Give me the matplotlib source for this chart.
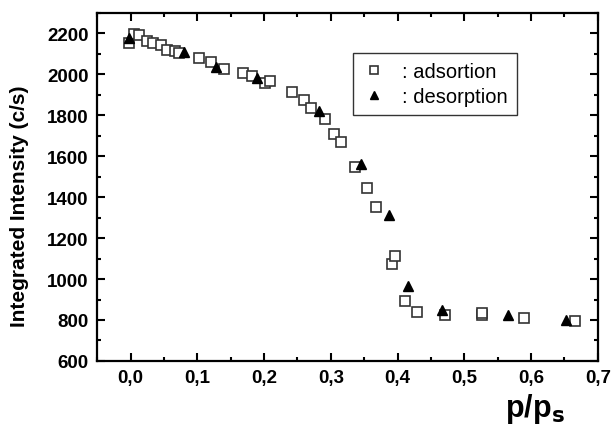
import matplotlib
matplotlib.use("Agg")
import matplotlib.pyplot as plt
from matplotlib.ticker import MultipleLocator, FuncFormatter

plt.rcParams['font.family'] = ['Liberation Sans', 'DejaVu Sans']
plt.rcParams['font.weight'] = 'bold'

# adsorption branch
ads_p = [-0.003, 0.005, 0.012, 0.024, 0.033, 0.045, 0.054, 0.066, 0.073,
         0.102, 0.120, 0.140, 0.168, 0.182, 0.202, 0.209, 0.242, 0.260,
         0.270, 0.291, 0.305, 0.316, 0.337, 0.355, 0.367, 0.392, 0.396,
         0.411, 0.429, 0.471, 0.527, 0.527, 0.589, 0.666]
ads_i = [2155, 2195, 2190, 2162, 2151, 2143, 2119, 2116, 2102,
         2081, 2062, 2024, 2008, 1992, 1956, 1967, 1912, 1875,
         1834, 1780, 1709, 1667, 1545, 1447, 1350, 1073, 1111,
         894, 839, 826, 822, 834, 810, 797]

# desorption branch
des_p = [-0.003, 0.080, 0.128, 0.189, 0.282, 0.346, 0.387, 0.416, 0.466, 0.566, 0.653]
des_i = [2179, 2111, 2037, 1984, 1821, 1561, 1314, 964, 847, 826, 802]

fig = plt.figure(figsize=(6.15, 4.35), dpi=100)
ax = fig.add_axes([0.158, 0.168, 0.814, 0.800])

ax.plot(ads_p, ads_i, ls='none', marker='s', ms=6.5, mfc='white', mec='#333333',
        mew=1.2, label=': adsortion')
ax.plot(des_p, des_i, ls='none', marker='^', ms=7, mfc='black', mec='black',
        label=': desorption')

ax.set_xlim(-0.05, 0.7)
ax.set_ylim(600, 2300)
ax.xaxis.set_major_locator(MultipleLocator(0.1))
ax.xaxis.set_minor_locator(MultipleLocator(0.05))
ax.yaxis.set_major_locator(MultipleLocator(200))
ax.yaxis.set_minor_locator(MultipleLocator(100))
ax.xaxis.set_major_formatter(FuncFormatter(lambda v, pos: ('%.1f' % v).replace('.', ',')))

ax.tick_params(which='both', direction='in', top=True, right=True, width=1.5)
ax.tick_params(which='major', length=6, labelsize=13.5, pad=6)
ax.tick_params(which='minor', length=3)
for s in ax.spines.values():
    s.set_linewidth(1.6)

fig.text(20 / 615, 1 - 206 / 435, 'Integrated Intensity (c/s)', rotation=90,
         ha='center', va='center', fontsize=15, fontweight='bold')
fig.text(0.821, 0.041, r'p/p$_\mathbf{s}$', fontsize=22, fontweight='bold',
         ha='left', va='baseline')

leg = ax.legend(loc='upper left', bbox_to_anchor=(0.511, 0.885), frameon=True,
                fancybox=False, edgecolor='black', fontsize=14.5, handlelength=1.2,
                handletextpad=0.8, borderpad=0.45, labelspacing=0.3, markerscale=0.8,
                borderaxespad=0)
leg.get_frame().set_linewidth(1.0)
for t in leg.get_texts():
    t.set_fontweight('normal')

fig.savefig('out.png', dpi=100)
